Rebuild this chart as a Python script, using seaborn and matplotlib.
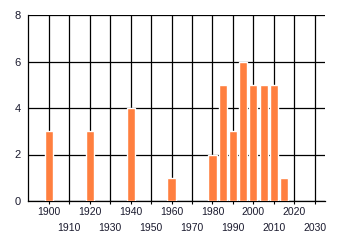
import matplotlib
matplotlib.use("Agg")
import matplotlib.pyplot as plt
import seaborn as sns
import pandas as pd

years = [1900, 1920, 1940, 1960, 1980, 1985, 1990, 1995, 2000, 2005, 2010, 2015]
counts = [3, 3, 4, 1, 2, 5, 3, 6, 5, 5, 5, 1]
row1_years = [1900, 1920, 1940, 1960, 1980, 2000, 2020]
row2_years = [1910, 1930, 1950, 1970, 1990, 2010, 2030]
y_ticks = [0, 2, 4, 6, 8]

sns.set_style("white")
plt.rcParams['font.family'] = ['Liberation Sans', 'DejaVu Sans']

df = pd.DataFrame({"year": years, "count": counts})

fig = plt.figure(figsize=(3.4, 2.45), dpi=100)
ax = fig.add_axes([28/340, 1-201/245, (325-28)/340, (201-15)/245])

sns.barplot(data=df, x="year", y="count", native_scale=True, color="#FF7F3F",
            saturation=1, width=0.8, ax=ax, zorder=3)

ax.set_xlim(1889.8, 2035)
ax.set_ylim(0, 8)
ax.set_xticks(row1_years)
ax.set_xticklabels([str(y) for y in row1_years], fontsize=7.5, color="#1a1a2e")
ax.set_xticks(row2_years, minor=True)
ax.set_xticklabels([str(y) for y in row2_years], minor=True, fontsize=7.5, color="#1a1a2e")
ax.set_yticks(y_ticks)
ax.set_yticklabels([str(v) for v in y_ticks], fontsize=8, color="#1a1a2e")
ax.tick_params(axis="x", which="major", length=2.5, width=0.8, color="black", pad=2, bottom=True)
ax.tick_params(axis="x", which="minor", length=2.5, width=0.8, color="black", pad=13, bottom=True)
ax.tick_params(axis="y", length=0, pad=5)
ax.grid(True, which="both", axis="x", color="black", linewidth=0.9)
ax.grid(True, which="major", axis="y", color="black", linewidth=0.9)
ax.set_axisbelow(True)
ax.set_xlabel("")
ax.set_ylabel("")
for s in ["top", "right"]:
    ax.spines[s].set_visible(False)
for s in ["left", "bottom"]:
    ax.spines[s].set_color("black")
    ax.spines[s].set_linewidth(0.9)

fig.savefig("out.png", dpi=100)
